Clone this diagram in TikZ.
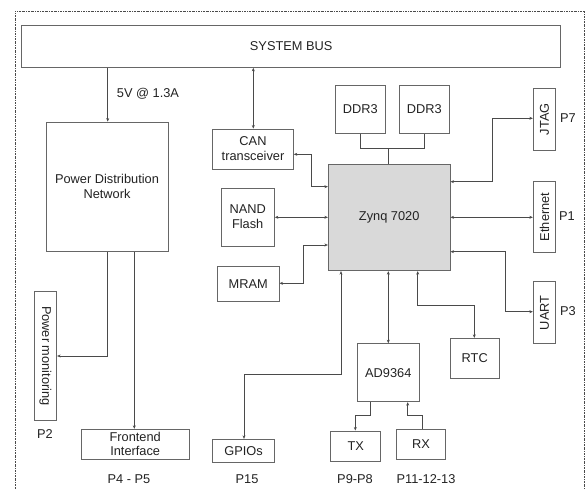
\documentclass[tikz,border=0pt]{standalone}
\usepackage{fontspec}
\setmainfont{Liberation Sans}
\usetikzlibrary{arrows.meta}
\definecolor{boxc}{HTML}{666666}
\definecolor{linec}{HTML}{4A4A4A}
\definecolor{txtc}{HTML}{222222}
\definecolor{zfill}{HTML}{D9D9D9}
\begin{document}
\begin{tikzpicture}[x=1pt,y=-1pt,
  every node/.style={font=\fontsize{12.8}{15}\selectfont, text=txtc},
  blk/.style={draw=boxc, line width=0.9pt, rectangle, inner sep=0pt, align=center},
  conn/.style={draw=linec, line width=0.8pt},
  uni/.style={conn, -{Stealth[length=3.5pt,width=3pt]}},
  bi/.style={conn, {Stealth[length=3.5pt,width=3pt]}-{Stealth[length=3.5pt,width=3pt]}},
  lbl/.style={inner sep=0pt}
]
\useasboundingbox (0,0) rectangle (586,489);
% outer dash-dot border
\draw[draw=linec, line width=0.7pt, dash pattern=on 2pt off 1pt on 0.6pt off 1pt]
  (15,495) -- (15,11) -- (584,11) -- (584,495);

% blocks
\node[blk, minimum width=539pt, minimum height=42.3pt] (bus) at (291.2,46.2) {SYSTEM BUS};
\node[blk, minimum width=122pt, minimum height=129.7pt] (pdn) at (107,186.9) {Power Distribution\\Network};
\node[blk, minimum width=80.6pt, minimum height=40pt] (can) at (253,149) {CAN\\transceiver};
\node[blk, minimum width=53.3pt, minimum height=58pt] (nand) at (247.7,217) {NAND\\Flash};
\node[blk, minimum width=61.7pt, minimum height=35pt] (mram) at (248.2,284.2) {MRAM};
\node[blk, fill=zfill, minimum width=121.7pt, minimum height=106.4pt] (zynq) at (389.2,217.5) {Zynq 7020};
\node[blk, minimum width=49.7pt, minimum height=48pt] (ddra) at (360.2,109.3) {DDR3};
\node[blk, minimum width=49.7pt, minimum height=48pt] (ddrb) at (424.2,109.3) {DDR3};
\node[blk, rotate=90, minimum width=61.7pt, minimum height=22.4pt] (jtag) at (544.5,119.2) {JTAG};
\node[blk, rotate=90, minimum width=70.6pt, minimum height=22.4pt] (eth) at (544.5,217) {Ethernet};
\node[blk, rotate=90, minimum width=62pt, minimum height=22.4pt] (uart) at (544.5,312.7) {UART};
\node[blk, rotate=-90, minimum width=128.3pt, minimum height=22.4pt] (pm) at (45.5,355.9) {Power monitoring};
\node[blk, minimum width=108.3pt, minimum height=30pt, font=\fontsize{12.8}{14}\selectfont] (fe) at (135.2,444.3) {Frontend\\Interface};
\node[blk, minimum width=61.6pt, minimum height=23pt] (gpio) at (243.5,450.8) {GPIOs};
\node[blk, minimum width=61.3pt, minimum height=58pt] (ad) at (388.3,372.7) {AD9364};
\node[blk, minimum width=49.3pt, minimum height=39.7pt] (rtc) at (474.7,358.2) {RTC};
\node[blk, minimum width=50pt, minimum height=30.7pt] (tx) at (355.7,446.3) {TX};
\node[blk, minimum width=48.6pt, minimum height=30pt] (rx) at (421,444.3) {RX};

% labels
\node[lbl] (v5) at (148,94) {5V @ 1.3A};
\node[lbl] (p7) at (568,118) {P7};
\node[lbl] (p1) at (567,216) {P1};
\node[lbl] (p3) at (568,311) {P3};
\node[lbl] (p2) at (45,434) {P2};
\node[lbl] (p45) at (129,479) {P4 - P5};
\node[lbl] (p15) at (247,479) {P15};
\node[lbl] (p98) at (355,479) {P9-P8};
\node[lbl] (p11) at (426,479) {P11-12-13};

% connectors
\draw[uni] (bus.south -| 107.7,0) -- (pdn.north -| 107.7,0);
\draw[bi] (bus.south -| 253.3,0) -- (can.north -| 253.3,0);
\draw[uni] (pdn.south -| 107.7,0) |- (pm.north |- 0,356);
\draw[uni] (pdn.south -| 134.3,0) -- (fe.north -| 134.3,0);

% DDR bus
\draw[conn] (ddra.south) |- (388.7,148.3) -| (ddrb.south);
\draw[conn] (388.7,148.3) -- (zynq.north -| 388.7,0);

% left side
\draw[bi] (zynq.west |- 0,186.7) -| (311.7,154.3) -- (can.east |- 0,154.3);
\draw[bi] (zynq.west |- 0,217.3) -- (nand.east |- 0,217.3);
\draw[bi] (zynq.west |- 0,245) -| (303.3,283.3) -- (mram.east |- 0,283.3);

% right side
\draw[bi] (zynq.east |- 0,181.7) -| (492,118.3) -- (jtag.north |- 0,118.3);
\draw[bi] (zynq.east |- 0,217.3) -- (eth.north |- 0,217.3);
\draw[bi] (zynq.east |- 0,251.7) -| (505,311.7) -- (uart.north |- 0,311.7);

% bottom
\draw[bi] (zynq.south -| 341,0) |- (244,374.3) -- (gpio.north -| 244,0);
\draw[bi] (zynq.south -| 388.3,0) -- (ad.north -| 388.3,0);
\draw[bi] (zynq.south -| 417.7,0) |- (474.3,305.7) -- (rtc.north -| 474.3,0);
\draw[uni] (ad.south -| 370,0) |- (355.3,415.7) -- (tx.north -| 355.3,0);
\draw[uni] (rx.north -| 422,0) |- (407.7,415.7) -- (ad.south -| 407.7,0);
\end{tikzpicture}
\end{document}
